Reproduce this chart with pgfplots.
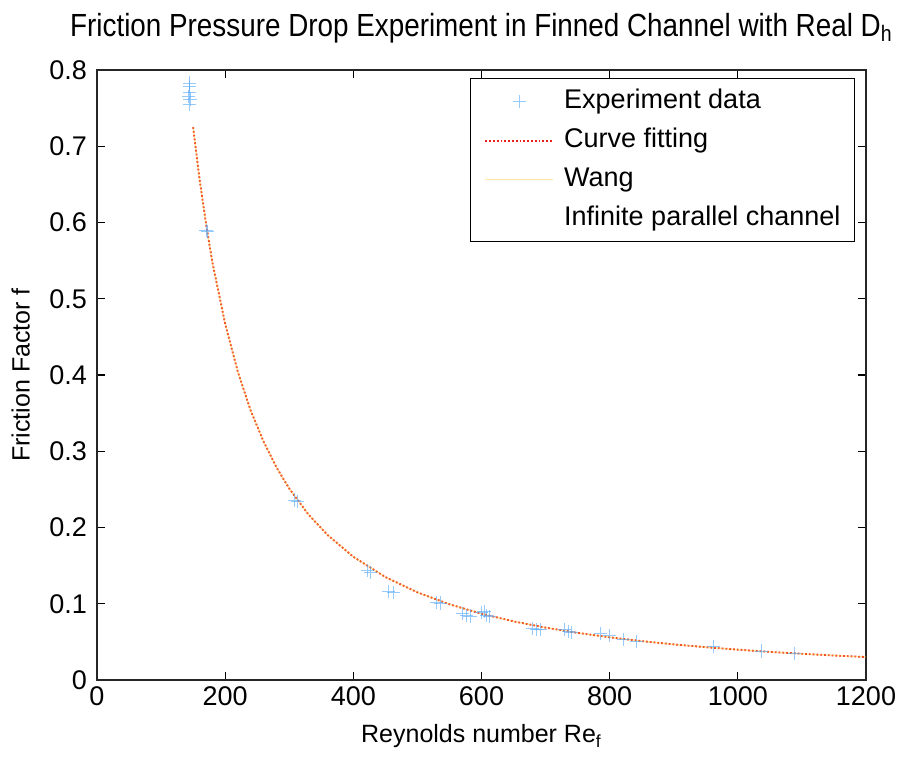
\documentclass[border=0pt]{standalone}
\usepackage{fontspec}
\setmainfont{Liberation Sans}
\newfontfamily\titlefont{Liberation Sans}[FakeStretch=0.87]
\usepackage{pgfplots}
\pgfplotsset{compat=1.18}

\definecolor{expblue}{RGB}{80,165,250}
\definecolor{fitred}{RGB}{235,30,30}
\definecolor{wangyellow}{RGB}{255,200,50}

\begin{document}
\begin{tikzpicture}
  \begin{axis}[
    scale only axis,
    width=384.5pt, height=305pt,
    xmin=0, xmax=1200, ymin=0, ymax=0.8,
    xtick={0,200,...,1200},
    ytick={0,0.1,0.2,0.3,0.4,0.5,0.6,0.7,0.8},
    /pgf/number format/assume math mode=true,
    /pgf/number format/1000 sep={},
    tick label style={font=\fontsize{13.5}{16}\selectfont},
    yticklabel style={xshift=-1.5pt},
    tick align=inside,
    major tick length=4pt,
    tick style={black, line width=0.6pt},
    axis line style={black!85, line width=0.8pt},
    title={\titlefont\fontsize{16}{19}\selectfont Friction Pressure Drop Experiment in Finned Channel with Real D\textsubscript{h}},
    title style={at={(0.5,1)}, anchor=base, yshift=11pt, inner sep=0pt},
    xlabel={Reynolds number Re\textsubscript{f}},
    xlabel style={font=\fontsize{12.5}{15}\selectfont, at={(axis description cs:0.5,0)},
      anchor=base, yshift=-31.5pt, inner sep=0pt},
    ylabel={Friction Factor f},
    ylabel style={font=\fontsize{12.5}{15}\selectfont, at={(axis description cs:0,0.5)},
      anchor=south, yshift=33.5pt, inner sep=0pt, text depth=0pt},
    legend style={at={(rel axis cs:1,1)}, anchor=north east,
      xshift=-5.5pt, yshift=-4pt,
      draw=black, line width=0.6pt,
      font=\fontsize{13.5}{15}\selectfont,
      inner xsep=7pt, inner ysep=5.5pt,
      row sep=7.5pt,
      nodes={inner sep=0pt, text height=9.5pt, text depth=2.5pt},
      /tikz/every odd column/.append style={column sep=5pt}},
    legend cell align=left,
    legend image code/.code={%
      \draw[mark repeat=2, mark phase=2, #1]
        plot coordinates {(0pt,0pt) (17pt,0pt) (34pt,0pt)};},
  ]
    % experiment data
    \addplot[only marks, mark=+, color=expblue, mark size=3.3pt,
      mark options={line width=0.4pt, opacity=0.6}]
      coordinates {
        (144,0.783) (144,0.778) (144,0.770) (143,0.765) (145,0.762) (144,0.755)
        (172,0.588) (170,0.590)
        (313,0.234) (308,0.236)
        (427,0.141) (422,0.144)
        (463,0.115) (455,0.116)
        (536,0.101) (530,0.102)
        (577,0.085) (570,0.087) (582,0.084)
        (600,0.088) (608,0.085) (612,0.083) (604,0.090)
        (686,0.066) (680,0.068) (692,0.066)
        (736,0.064) (730,0.066) (740,0.062)
        (786,0.061) (800,0.058) (821,0.053) (842,0.051)
        (962,0.044) (1037,0.038) (1089,0.035)
      };
    \addlegendentry{Experiment data}

    % curve fitting
    \addplot[color=fitred, densely dotted, line width=0.9pt]
      coordinates {
        (150,0.725) (160,0.657) (170,0.599) (180,0.548) (200,0.467)
        (220,0.4035) (240,0.353) (260,0.3125) (280,0.279) (300,0.251)
        (330,0.217) (360,0.190) (400,0.1616) (450,0.135) (500,0.1149)
        (550,0.0993) (600,0.0869) (650,0.0769) (700,0.0687) (750,0.0618)
        (800,0.0560) (850,0.0510) (900,0.0467) (950,0.0430) (1000,0.0398)
        (1050,0.0369) (1100,0.0344) (1150,0.0321) (1200,0.0301)
      };
    \addlegendentry{Curve fitting}

    % Wang
    \addplot[color=wangyellow, line width=0.6pt, opacity=0.45]
      coordinates {
        (150,0.725) (160,0.657) (170,0.599) (180,0.548) (200,0.467)
        (220,0.4035) (240,0.353) (260,0.3125) (280,0.279) (300,0.251)
        (330,0.217) (360,0.190) (400,0.1616) (450,0.135) (500,0.1149)
        (550,0.0993) (600,0.0869) (650,0.0769) (700,0.0687) (750,0.0618)
        (800,0.0560) (850,0.0510) (900,0.0467) (950,0.0430) (1000,0.0398)
        (1050,0.0369) (1100,0.0344) (1150,0.0321) (1200,0.0301)
      };
    \addlegendentry{Wang}

    \addlegendimage{white}
    \addlegendentry{Infinite parallel channel}
  \end{axis}
  \pgfresetboundingbox
  \path[use as bounding box] (-48.5pt,-39.5pt) rectangle (404.5pt,340pt);
\end{tikzpicture}
\end{document}
